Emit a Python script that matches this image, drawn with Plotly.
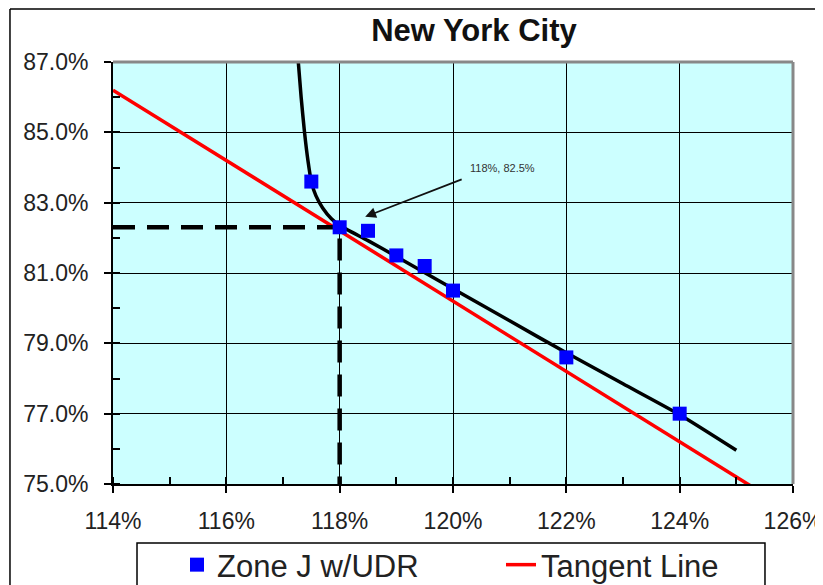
import plotly.graph_objects as go

# ---- data ----
zone_x = [117.5, 118.0, 118.5, 119.0, 119.5, 120.0, 122.0, 124.0]
zone_y = [83.6, 82.3, 82.2, 81.5, 81.2, 80.5, 78.6, 77.0]

curve_x = [117.26, 117.32, 117.38, 117.44, 117.5, 117.58, 117.7, 117.85, 118.0,
           118.5, 119.0, 120.0, 121.0, 122.0, 123.0, 124.0, 125.0]
curve_y = [87.2, 86.0, 85.0, 84.2, 83.6, 83.2, 82.85, 82.55, 82.35,
           81.92, 81.47, 80.55, 79.64, 78.73, 77.85, 76.97, 75.96]

tangent_x = [114.0, 125.4]
tangent_y = [86.2, 74.8]

opt_x = 118.0
opt_y = 82.3
guide_x = [114.0, opt_x, opt_x]
guide_y = [opt_y, opt_y, 75.0]

x_ticks = [114, 116, 118, 120, 122, 124, 126]
y_ticks = [75, 77, 79, 81, 83, 85, 87]
x_labels = [f"{v}%" for v in x_ticks]
y_labels = [f"{v:.1f}%" for v in y_ticks]

FONT = "Liberation Sans, Arial, sans-serif"

fig = go.Figure()

fig.add_trace(go.Scatter(x=tangent_x, y=tangent_y, mode="lines", name="Tangent Line",
                         line=dict(color="#ff0000", width=3.5), legendrank=2))
fig.add_trace(go.Scatter(x=curve_x, y=curve_y, mode="lines", showlegend=False,
                         line=dict(color="#000000", width=3.5, shape="spline", smoothing=0.6)))
fig.add_trace(go.Scatter(x=guide_x, y=guide_y, mode="lines", showlegend=False,
                         line=dict(color="#000000", width=4.5, dash="22px,12px")))
fig.add_trace(go.Scatter(x=zone_x, y=zone_y, mode="markers", name="Zone J w/UDR",
                         marker=dict(symbol="square", size=14, color="#0000ff"),
                         legendrank=1))

# annotation arrow and label
fig.add_annotation(x=118.45, y=82.6, ax=98, ay=-38, text="", showarrow=True,
                   arrowhead=2, arrowsize=1.2, arrowwidth=1.8, arrowcolor="#111111")
fig.add_annotation(x=120.88, y=84.0, text="118%, 82.5%", showarrow=False,
                   font=dict(family=FONT, size=11, color="#333333"))

shapes = [
    # grey plot-area frame top/right
    dict(type="line", xref="paper", yref="paper", x0=0, x1=1, y0=1, y1=1,
         line=dict(color="#888888", width=3)),
    dict(type="line", xref="paper", yref="paper", x0=1, x1=1, y0=0, y1=1,
         line=dict(color="#888888", width=3)),
    # outer chart border (left & top)
    dict(type="line", xref="paper", yref="paper", x0=-0.1515, x1=1.1, y0=1.1256, y1=1.1256,
         line=dict(color="#000000", width=1.5)),
    dict(type="line", xref="paper", yref="paper", x0=-0.1515, x1=-0.1515, y0=-0.4, y1=1.1256,
         line=dict(color="#000000", width=1.5)),
    # legend box
    dict(type="rect", xref="paper", yref="paper", x0=0.0353, x1=0.9588, y0=-0.35, y1=-0.1398,
         line=dict(color="#000000", width=1.5), fillcolor="rgba(0,0,0,0)"),
]

fig.update_layout(
    width=823, height=585,
    margin=dict(l=105, r=38, t=54, b=109, autoexpand=False),
    paper_bgcolor="#ffffff",
    plot_bgcolor="#ccffff",
    font=dict(family=FONT, color="#222222"),
    title=dict(text="<b>New York City</b>", x=466/823, xref="container", xanchor="center",
               y=1 - 22/585, yref="container", yanchor="middle",
               font=dict(family=FONT, size=31, color="#111111")),
    showlegend=True,
    legend=dict(orientation="h", x=169/823, xref="container", xanchor="left",
                y=1 - 530/585, yref="container", yanchor="top",
                bgcolor="rgba(0,0,0,0)", borderwidth=0,
                font=dict(family=FONT, size=31, color="#222222"),
                entrywidth=279, entrywidthmode="pixels", itemsizing="trace"),
    shapes=shapes,
)

fig.update_xaxes(range=[114, 126], tickvals=x_ticks, ticktext=x_labels,
                 showgrid=True, gridcolor="#000000", gridwidth=1,
                 showline=True, linecolor="#000000", linewidth=2,
                 ticks="outside", ticklen=7, tickcolor="#000000", tickwidth=1.5,
                 minor=dict(dtick=1, tick0=114, ticks="inside", ticklen=7,
                            tickcolor="#000000", tickwidth=1.5, showgrid=False),
                 tickfont=dict(family=FONT, size=23, color="#222222"),
                 ticklabelstandoff=8, automargin=False,
                 zeroline=False, fixedrange=True)
fig.update_yaxes(range=[75, 87], tickvals=y_ticks, ticktext=y_labels,
                 showgrid=True, gridcolor="#000000", gridwidth=1,
                 showline=True, linecolor="#000000", linewidth=2,
                 ticks="outside", ticklen=7, tickcolor="#000000", tickwidth=1.5,
                 minor=dict(dtick=1, tick0=75, ticks="inside", ticklen=7,
                            tickcolor="#000000", tickwidth=1.5, showgrid=False),
                 tickfont=dict(family=FONT, size=23, color="#222222"),
                 ticklabelstandoff=11, automargin=False,
                 zeroline=False, fixedrange=True)

fig.write_html("out.html")
